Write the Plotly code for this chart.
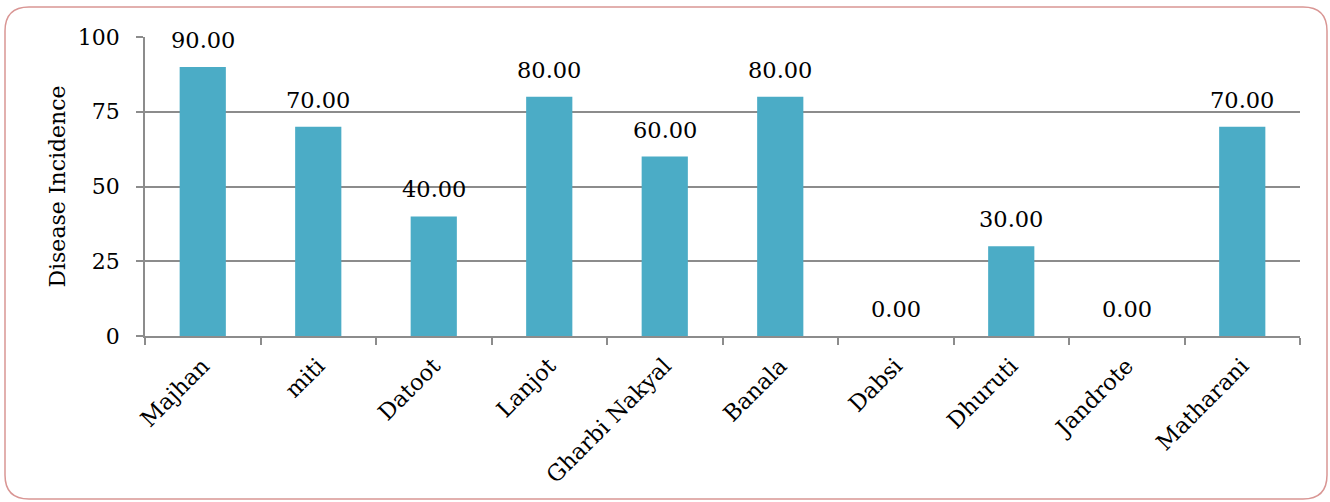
import plotly.graph_objects as go

# Disease incidence by village
villages = ["Majhan", "miti", "Datoot", "Lanjot", "Gharbi Nakyal",
            "Banala", "Dabsi", "Dhuruti", "Jandrote", "Matharani"]
incidence = [90, 70, 40, 80, 60, 80, 0, 30, 0, 70]
y_ticks = [0, 25, 50, 75, 100]

FONT = "DejaVu Serif"
BAR = "#4BACC6"
GRID = "#8C8C8C"

W, H = 1330, 502
ML, MR, MT, MB = 145, 30, 37, 166

fig = go.Figure(
    go.Bar(
        x=villages,
        y=incidence,
        marker=dict(color=BAR, line=dict(width=0)),
        hoverinfo="x+y",
    )
)

# value labels above each bar
for v, val in zip(villages, incidence):
    fig.add_annotation(
        x=v, y=val, text=f"{val:.2f}", showarrow=False,
        yanchor="bottom", yshift=12,
        font=dict(family=FONT, size=22.5, color="#000000"),
    )

# rounded outer frame, positioned in pixels via paper coordinates
pw, ph = W - ML - MR, H - MT - MB
def px(x):
    return (x - ML) / pw
def py(y):
    return (H - MB - y) / ph
x0, x1, y0, y1, r = 5, 1327, 7, 499, 24
path = (
    f"M {px(x0 + r)} {py(y0)} L {px(x1 - r)} {py(y0)} "
    f"Q {px(x1)} {py(y0)} {px(x1)} {py(y0 + r)} "
    f"L {px(x1)} {py(y1 - r)} Q {px(x1)} {py(y1)} {px(x1 - r)} {py(y1)} "
    f"L {px(x0 + r)} {py(y1)} Q {px(x0)} {py(y1)} {px(x0)} {py(y1 - r)} "
    f"L {px(x0)} {py(y0 + r)} Q {px(x0)} {py(y0)} {px(x0 + r)} {py(y0)} Z"
)
fig.add_shape(type="path", path=path, xref="paper", yref="paper",
              line=dict(color="#D99694", width=1.5), layer="below")

fig.update_layout(
    width=W, height=H,
    margin=dict(l=ML, r=MR, t=MT, b=MB),
    paper_bgcolor="white", plot_bgcolor="white",
    bargap=0.6,
    showlegend=False,
    font=dict(family=FONT, size=22, color="#000000"),
    xaxis=dict(
        tickangle=-45,
        tickson="boundaries",
        ticks="outside", ticklen=7, tickcolor=GRID, tickwidth=1.5,
        showline=True, linecolor=GRID, linewidth=1.5,
        showgrid=False,
        ticklabelstandoff=6,
        tickfont=dict(family=FONT, size=22.5),
    ),
    yaxis=dict(
        range=[0, 100],
        tickvals=y_ticks,
        ticks="outside", ticklen=7, tickcolor=GRID, tickwidth=1.5,
        showline=True, linecolor=GRID, linewidth=1.5,
        showgrid=True, gridcolor=GRID, gridwidth=1.5,
        zeroline=False,
        ticklabelstandoff=12,
        tickfont=dict(family=FONT, size=22),
        title=dict(text="Disease Incidence", font=dict(family=FONT, size=22), standoff=6),
    ),
)

fig.write_html("out.html")
